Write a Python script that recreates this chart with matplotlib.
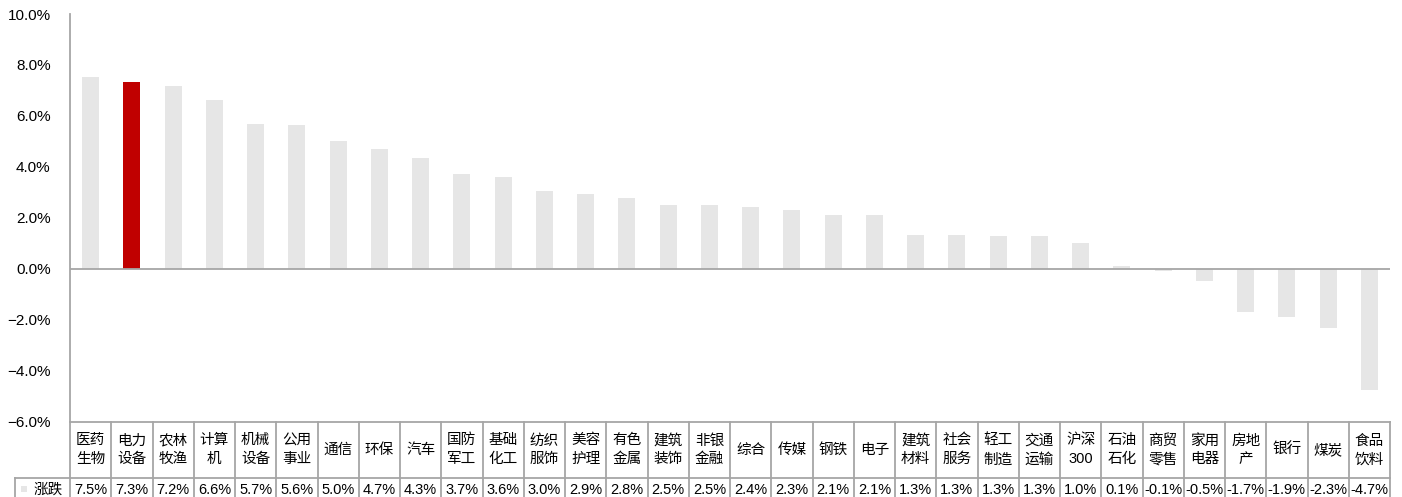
import matplotlib
matplotlib.use("Agg")
import matplotlib.pyplot as plt
import matplotlib.transforms as mtransforms
from matplotlib.patches import Rectangle

plt.rcParams['font.family'] = ['Liberation Sans', 'Noto Sans CJK SC', 'DejaVu Sans']

categories = ["医药\n生物", "电力\n设备", "农林\n牧渔", "计算\n机", "机械\n设备", "公用\n事业",
              "通信", "环保", "汽车", "国防\n军工", "基础\n化工", "纺织\n服饰", "美容\n护理",
              "有色\n金属", "建筑\n装饰", "非银\n金融", "综合", "传媒", "钢铁", "电子",
              "建筑\n材料", "社会\n服务", "轻工\n制造", "交通\n运输", "沪深\n300", "石油\n石化",
              "商贸\n零售", "家用\n电器", "房地\n产", "银行", "煤炭", "食品\n饮料"]
changes = [7.54, 7.32, 7.18, 6.61, 5.68, 5.63, 5.03, 4.70, 4.34, 3.72, 3.62, 3.04, 2.93,
           2.77, 2.51, 2.50, 2.41, 2.29, 2.13, 2.12, 1.33, 1.31, 1.30, 1.28, 1.00, 0.10,
           -0.08, -0.47, -1.69, -1.88, -2.34, -4.74]
highlight = "电力\n设备"
series_name = "涨跌"
yticks = [-6, -4, -2, 0, 2, 4, 6, 8, 10]

BAR = "#e6e6e6"
RED = "#c00000"
LINE = "#a6a6a6"

fig = plt.figure(figsize=(14.02, 4.97), dpi=100)
ax = fig.add_axes([70 / 1402, 1 - 421.7 / 497, 1320 / 1402, (421.7 - 14) / 497])

x = list(range(len(categories)))
colors = [RED if c == highlight else BAR for c in categories]
ax.bar(x, changes, width=0.41, color=colors, zorder=2)

ax.set_xlim(-0.5, len(categories) - 0.5)
ax.set_ylim(-6, 10)
ax.set_yticks(yticks)
ax.set_yticklabels([f"{v:.1f}%".replace("-", "\u2212") for v in yticks], fontsize=11)
ax.tick_params(axis='y', length=0, pad=14)
ax.set_xticks([])
ax.axhline(0, color=LINE, lw=1.3, zorder=3)

for s in ["top", "right", "bottom"]:
    ax.spines[s].set_visible(False)
ax.spines["left"].set_color(LINE)
ax.spines["left"].set_linewidth(1.3)

# data table under the axis
trans = mtransforms.blended_transform_factory(ax.transData, fig.transFigure)
y_top = 1 - 421.7 / 497
y_mid = 1 - 478 / 497
y_bot = 0.0
row1_c = (y_top + y_mid) / 2
row2_c = 1 - 489.5 / 497
n = len(categories)

ax.plot([-0.5, n - 0.5], [y_top, y_top], transform=trans, color=LINE, lw=1.3, clip_on=False)
for i in range(n + 1):
    ax.plot([i - 0.5, i - 0.5], [y_top, y_bot], transform=trans, color=LINE, lw=1.3, clip_on=False)

left_fig = 15 / 1402
fig.add_artist(plt.Line2D([left_fig, ax.get_position().x1], [y_mid, y_mid],
                          color=LINE, lw=1.3, transform=fig.transFigure))
fig.add_artist(plt.Line2D([left_fig, left_fig], [y_mid, y_bot],
                          color=LINE, lw=1.3, transform=fig.transFigure))

for i, (c, v) in enumerate(zip(categories, changes)):
    ax.text(i, row1_c, c, transform=trans, ha='center', va='center', fontsize=10.5,
            linespacing=1.45, clip_on=False)
    ax.text(i, row2_c, f"{v:.1f}%", transform=trans, ha='center', va='center',
            fontsize=10.5, clip_on=False)

fig.add_artist(Rectangle((21 / 1402, 1 - 492 / 497), 6 / 1402, 6 / 497,
                         facecolor=BAR, edgecolor='none', transform=fig.transFigure))
fig.text(48 / 1402, row2_c, series_name, ha='center', va='center', fontsize=10.5)

fig.savefig("out.png", dpi=100)
